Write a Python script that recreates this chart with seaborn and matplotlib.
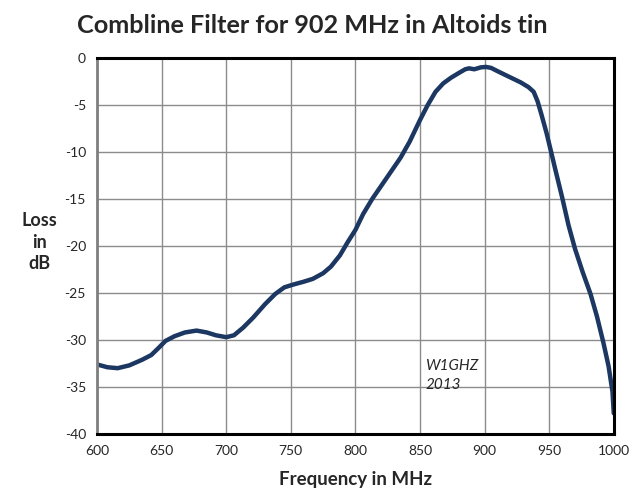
import pandas as pd
import seaborn as sns
import numpy as np
import matplotlib.pyplot as plt

# values
freq = [600, 608, 616, 625, 635, 642, 648, 653, 660, 668, 677, 685, 692, 700, 706,
        713, 721, 730, 738, 745, 752, 760, 767, 775, 781, 788, 794, 800, 806, 813,
        820, 827, 835, 842, 850, 856, 862, 868, 874, 880, 885, 888, 892, 897, 901,
        905, 910, 916, 922, 928, 934, 938, 941, 944, 948, 951, 955, 960, 965, 970,
        976, 982, 987, 992, 996, 999, 1000]
loss = [-32.6, -32.9, -33.0, -32.7, -32.1, -31.6, -30.8, -30.1, -29.6, -29.2, -29.0,
        -29.2, -29.5, -29.7, -29.5, -28.7, -27.6, -26.2, -25.1, -24.4, -24.1, -23.8,
        -23.5, -22.9, -22.2, -21.0, -19.6, -18.3, -16.6, -15.0, -13.6, -12.2, -10.6,
        -8.9, -6.6, -5.0, -3.6, -2.7, -2.1, -1.6, -1.2, -1.1, -1.2, -1.0, -0.95,
        -1.05, -1.4, -1.8, -2.2, -2.6, -3.1, -3.6, -4.6, -6.0, -8.0, -9.7, -12.0,
        -14.8, -17.8, -20.3, -22.8, -25.1, -27.5, -30.3, -32.8, -35.5, -37.8]
xticks = [600, 650, 700, 750, 800, 850, 900, 950, 1000]
yticks = [0, -5, -10, -15, -20, -25, -30, -35, -40]

data = pd.DataFrame({'Frequency': freq, 'Loss': loss})

sns.set_theme(style="white")
plt.rcParams['font.family'] = ['Lato', 'DejaVu Sans']

fig = plt.figure(figsize=(6.4, 4.94), dpi=100)
ax = fig.add_axes([0.1516, 0.1215, 0.8074, 0.7611])

ax.grid(True, color='#8c8c8c', linewidth=1.0)
ax.set_axisbelow(True)
sns.lineplot(data=data, x='Frequency', y='Loss', ax=ax, color='#1c3862', linewidth=3.2)

ax.set_xlim(600, 1000)
ax.set_ylim(-40, 0)
ax.set_xticks(xticks)
ax.set_yticks(yticks)
ax.set_xticklabels([str(t) for t in xticks], fontsize=10)
ax.set_yticklabels([str(t) for t in yticks], fontsize=10)
ax.tick_params(length=0, pad=8)
ax.set_xlabel('Frequency in MHz', fontsize=13.5, fontweight='bold', labelpad=10)
ax.set_ylabel('')

for side in ['top', 'right', 'bottom']:
    ax.spines[side].set_color('black')
    ax.spines[side].set_linewidth(2.2)
ax.spines['left'].set_color('#7f7f7f')
ax.spines['left'].set_linewidth(2.0)

ax.text(854, -35.2, 'W1GHZ\n2013', fontsize=11, style='italic', va='baseline',
        linespacing=1.45)

fig.text(0.488, 0.948, 'Combline Filter for 902 MHz in Altoids tin', ha='center',
         va='center', fontsize=18.2, fontweight='bold')
fig.text(0.062, 0.51, 'Loss\nin\ndB', ha='center', va='center', fontsize=13,
         fontweight='bold', linespacing=1.3)

plt.savefig('out.png', dpi=100)
plt.close()
